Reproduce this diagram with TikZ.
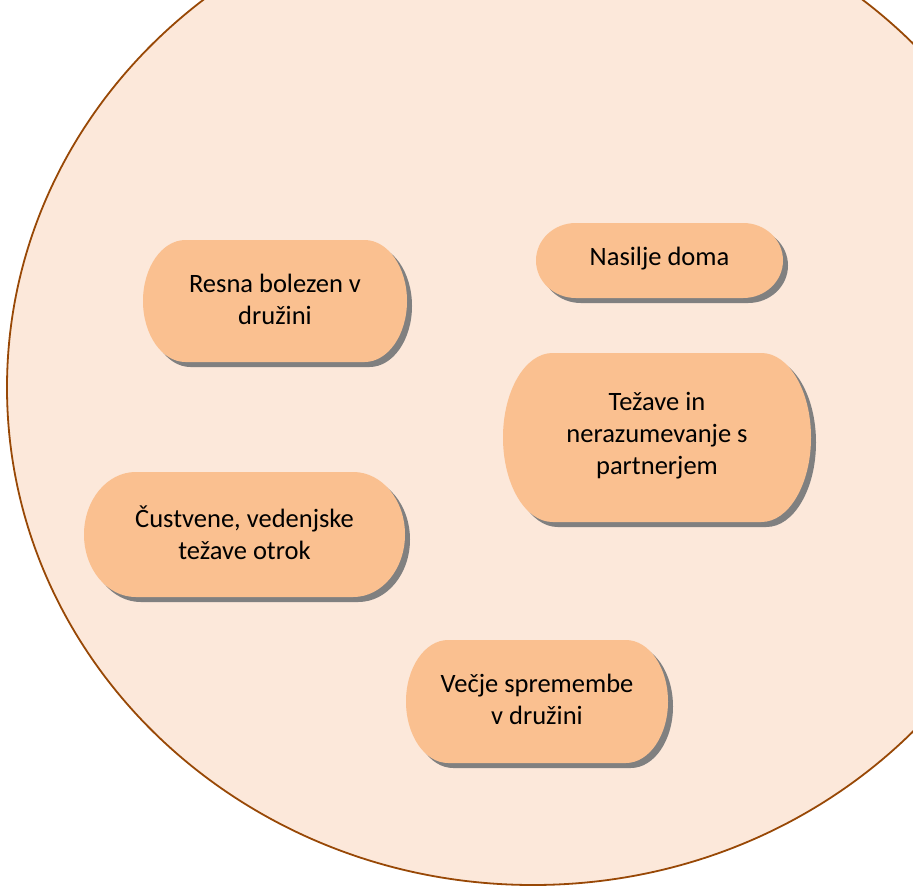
\documentclass[tikz,border=0pt]{standalone}
\usepackage{fontspec}
\setmainfont{Carlito}
\definecolor{ovalfill}{HTML}{FCE8DA}
\definecolor{ovaldraw}{HTML}{984806}
\definecolor{boxfill}{HTML}{FAC090}
\definecolor{shadowc}{HTML}{808080}
\tikzset{
  bigoval/.style={fill=ovalfill, draw=ovaldraw, line width=1.8pt},
  boxshape/.style={fill=boxfill},
  boxshadow/.style={fill=shadowc},
  boxtext/.style={align=center, inner sep=0pt, text=black, font=\fontsize{26.5}{32}\selectfont}
}
\newcommand{\termbox}[6]{%
  \pgfmathsetmacro\trx{0.161*(#4-#2)}%
  \pgfmathsetmacro\try{(#5-#3)/2}%
  \fill[boxshadow, shift={(5,5)}] (#2+\trx,#3) -- (#4-\trx,#3)
     arc[start angle=-90,end angle=90,x radius=\trx,y radius=\try]
     -- (#2+\trx,#5)
     arc[start angle=90,end angle=270,x radius=\trx,y radius=\try] -- cycle;
  \fill[boxshape] (#2+\trx,#3) -- (#4-\trx,#3)
     arc[start angle=-90,end angle=90,x radius=\trx,y radius=\try]
     -- (#2+\trx,#5)
     arc[start angle=90,end angle=270,x radius=\trx,y radius=\try] -- cycle;
  \node[boxtext] (#1) at ({(#2+#4)/2},{(#3+#5)/2-2}) {#6};
}
\begin{document}
\begin{tikzpicture}[x=1pt,y=-1pt]
\useasboundingbox (0,0) rectangle (913,886);
\begin{scope}
  \clip (0,0) rectangle (913,886);
  \draw[bigoval] (533,387.5) ellipse [x radius=526, y radius=497.5];
\end{scope}
\termbox{resna}{143}{240}{407}{362}{Resna bolezen v\\družini}
\termbox{nasilje}{536}{223}{783}{298}{Nasilje doma}
\termbox{tezave}{503}{353}{811}{522}{Težave in\\nerazumevanje s\\partnerjem}
\termbox{custvene}{84}{472}{405}{597}{Čustvene, vedenjske\\težave otrok}
\termbox{vecje}{406}{640}{668}{763}{Večje spremembe\\v družini}
\end{tikzpicture}
\end{document}
